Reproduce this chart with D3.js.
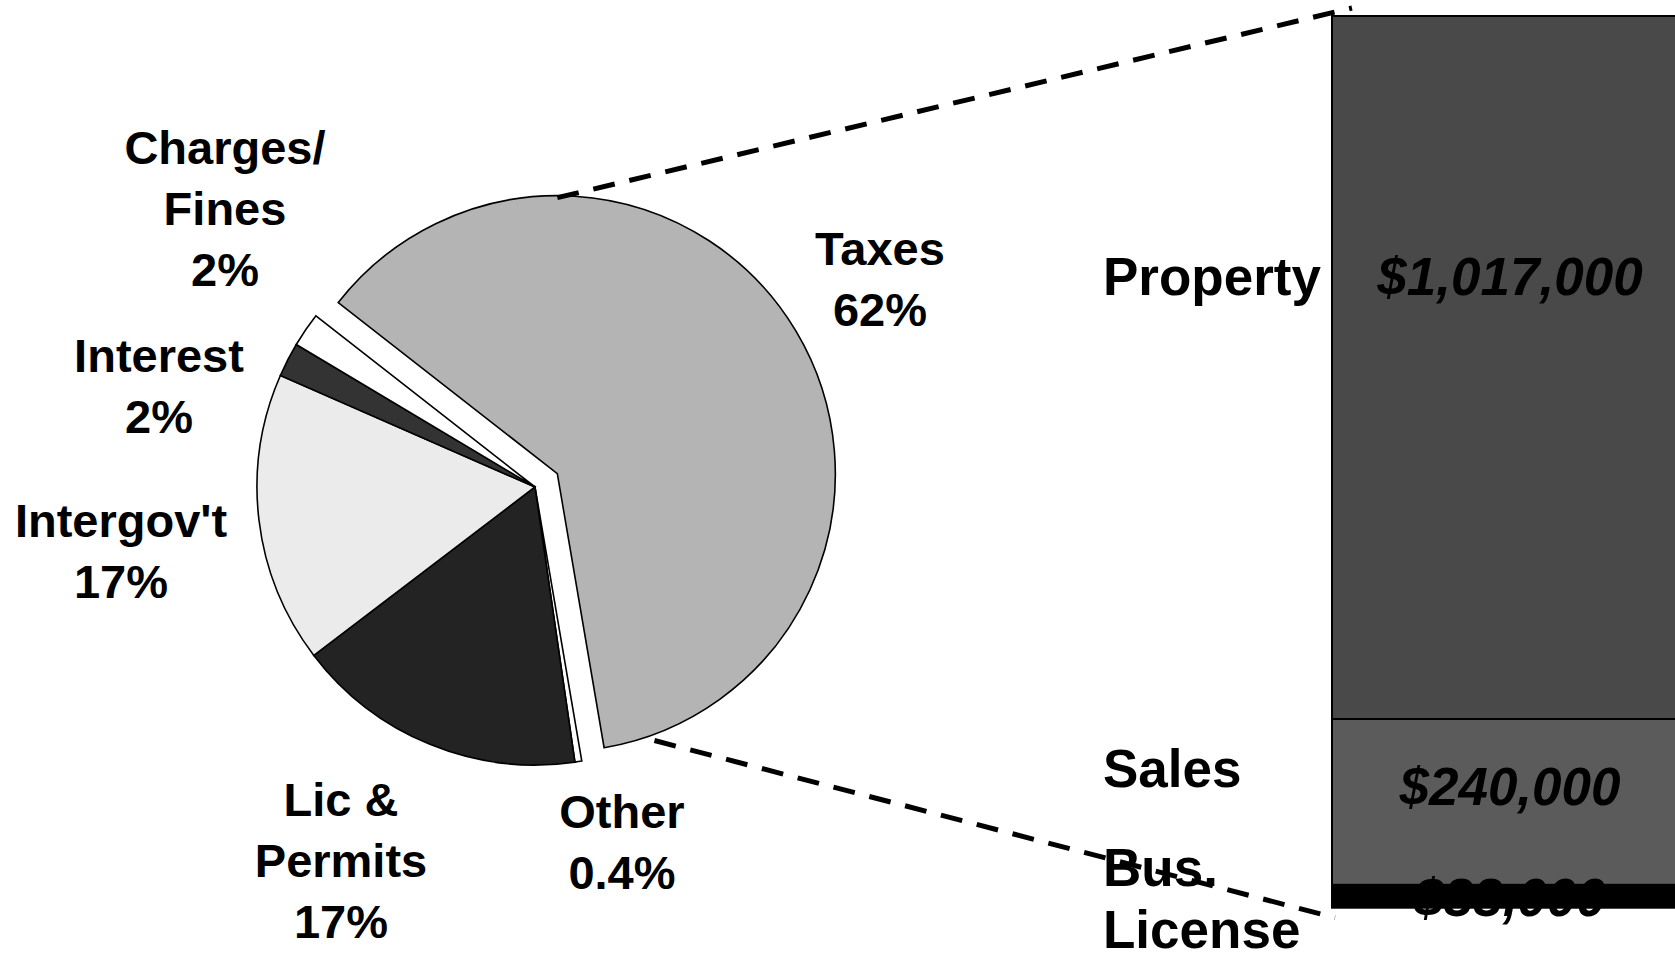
<!DOCTYPE html>
<html>
<head>
<meta charset="utf-8">
<script src="https://cdn.jsdelivr.net/npm/d3@7"></script>
<style>
  body { margin: 0; background: #fff; }
  text { font-family: "Liberation Sans", Arial, sans-serif; font-weight: bold; fill: #000; }
</style>
</head>
<body>
<div id="chart"></div>
<script>
var width = 1675, height = 953;

// revenue sources (pie), clockwise from the exploded slice
var sources = ["Taxes", "Other", "Lic &\nPermits", "Intergov't", "Interest", "Charges/\nFines"];
var shares = [62, 0.4, 17, 17, 2, 2];

// tax breakdown (bar)
var taxTypes = ["Property", "Sales", "Bus.\nLicense"];
var taxAmounts = [1017000, 240000, 33000];

var pieColor = d3.scaleOrdinal()
  .domain(sources)
  .range(["#b4b4b4", "#ffffff", "#232323", "#ebebeb", "#333333", "#ffffff"]);
var barColor = d3.scaleOrdinal()
  .domain(taxTypes)
  .range(["#494949", "#5b5b5b", "#000000"]);

// label spots (baseline of first line)
var pieLabelAt = {
  "Taxes": [880, 265],
  "Other": [622, 828],
  "Lic &\nPermits": [341, 816],
  "Intergov't": [121, 537],
  "Interest": [159, 372],
  "Charges/\nFines": [225, 164]
};
var barLabelAt = [[295, 295], [787, 805], [886, 916]];

var cx = 535, cy = 487, R = 278, EXPLODE = 26;
var LINE_H = 61;

var svg = d3.select("#chart").append("svg")
    .attr("width", width)
    .attr("height", height);

var pie = d3.pie()
  .sort(null)
  .startAngle(-52 * Math.PI / 180)
  .endAngle(-52 * Math.PI / 180 + 2 * Math.PI);

var arc = d3.arc().innerRadius(0).outerRadius(R);

var slices = pie(shares);
slices.forEach(function(d, i) { d.name = sources[i]; });

// only the taxes slice is pulled out
function offsetOf(d, i) {
  if (i !== 0) return [0, 0];
  var mid = (d.startAngle + d.endAngle) / 2;
  return [EXPLODE * Math.sin(mid), -EXPLODE * Math.cos(mid)];
}

var pieG = svg.append("g")
  .attr("transform", "translate(" + cx + "," + cy + ")");

pieG.selectAll(".slice")
  .data(slices)
  .enter()
  .append("path")
  .attr("class", "slice")
  .attr("transform", function(d, i) {
    var o = offsetOf(d, i);
    return "translate(" + o[0] + "," + o[1] + ")";
  })
  .attr("d", arc)
  .style("fill", function(d) { return pieColor(d.name); })
  .style("stroke", "#000")
  .style("stroke-width", 1.6)
  .style("stroke-linejoin", "miter");

// pie labels
var pieLabels = svg.selectAll(".pie-label")
  .data(slices)
  .enter()
  .append("text")
  .attr("class", "pie-label")
  .attr("text-anchor", "middle")
  .style("font-size", "47px");

pieLabels.each(function(d, i) {
  var pos = pieLabelAt[d.name];
  var lines = d.name.split("\n").concat([shares[i] + "%"]);
  d3.select(this).selectAll("tspan")
    .data(lines)
    .enter()
    .append("tspan")
    .attr("x", pos[0])
    .attr("y", function(l, j) { return pos[1] + j * LINE_H; })
    .text(function(l) { return l; });
});

// bar of the taxes
var barX = 1332, barW = 356, barTop = 16;
var total = d3.sum(taxAmounts);
var yScale = d3.scaleLinear()
  .domain([0, 1017000])
  .range([barTop, barTop + 703]);

var cum = [0].concat(Array.from(d3.cumsum(taxAmounts)));
var segs = taxAmounts.map(function(v, i) {
  return { name: taxTypes[i], value: v, y0: cum[i], y1: cum[i + 1] };
});

svg.selectAll(".seg")
  .data(segs)
  .enter()
  .append("rect")
  .attr("class", "seg")
  .attr("x", barX)
  .attr("width", barW)
  .attr("y", function(d) { return yScale(d.y0); })
  .attr("height", function(d) { return yScale(d.y1) - yScale(d.y0); })
  .style("fill", function(d) { return barColor(d.name); })
  .style("stroke", "#000")
  .style("stroke-width", 2);

var fmt = d3.format("$,");

svg.selectAll(".seg-name")
  .data(segs)
  .enter()
  .append("text")
  .attr("class", "seg-name")
  .style("font-size", "53px")
  .each(function(d, i) {
    d3.select(this).selectAll("tspan")
      .data(d.name.split("\n"))
      .enter()
      .append("tspan")
      .attr("x", 1103)
      .attr("y", function(l, j) { return barLabelAt[i][0] + j * 62; })
      .text(function(l) { return l; });
  });

svg.selectAll(".seg-value")
  .data(segs)
  .enter()
  .append("text")
  .attr("class", "seg-value")
  .attr("text-anchor", "middle")
  .attr("x", barX + barW / 2)
  .attr("y", function(d, i) { return barLabelAt[i][1]; })
  .style("font-size", "53px")
  .style("font-style", "italic")
  .text(function(d) { return fmt(d.value); });

// connector lines from the taxes slice to the bar
var tax = slices[0];
var to = offsetOf(tax, 0);
function arcPoint(angleDeg, r) {
  var a = angleDeg * Math.PI / 180;
  return [cx + to[0] + r * Math.sin(a), cy + to[1] - r * Math.cos(a)];
}
var p1 = arcPoint(0, R - 2), p2 = arcPoint(160, R + 6);
var connectors = [[p1, [barX + 20, 8]], [p2, [barX + 3, yScale(total) + 10]]];

svg.selectAll(".connector")
  .data(connectors)
  .enter()
  .append("line")
  .attr("class", "connector")
  .attr("x1", function(d) { return d[0][0]; })
  .attr("y1", function(d) { return d[0][1]; })
  .attr("x2", function(d) { return d[1][0]; })
  .attr("y2", function(d) { return d[1][1]; })
  .style("stroke", "#000")
  .style("stroke-width", 5)
  .style("stroke-dasharray", "22,15");
</script>
</body>
</html>
